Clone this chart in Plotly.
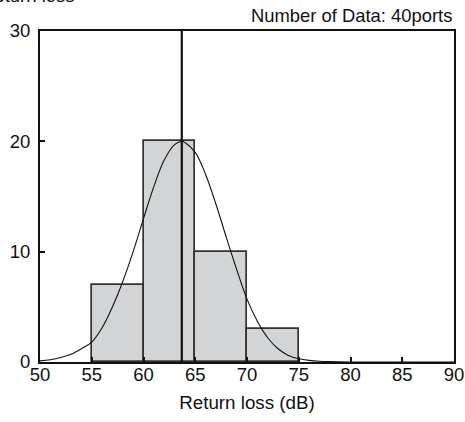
import plotly.graph_objects as go

# Histogram data (bin centers, counts)
bin_centers = [57.5, 62.5, 67.5, 72.5]
counts = [7, 20, 10, 3]
bin_width = 5

# Fitted distribution curve
curve_x = [50, 51, 52, 53, 54, 55, 56, 57, 58, 59, 60, 61, 62, 63, 63.7, 64, 65, 66,
           67, 68, 69, 70, 71, 72, 73, 74, 75, 76, 77, 78, 80, 85, 90]
curve_y = [0.1, 0.2, 0.4, 0.7, 1.2, 1.8, 3.1, 5.0, 7.3, 10.0, 13.0, 15.9, 18.3, 19.7, 20.0, 19.9, 19.0, 17.0,
           14.3, 11.3, 8.4, 5.7, 3.7, 2.2, 1.2, 0.6, 0.3, 0.15, 0.07, 0.03, 0.0, 0.0, 0.0]

mean_value = 63.7
x_ticks = [50, 55, 60, 65, 70, 75, 80, 85, 90]
y_ticks = [0, 10, 20, 30]

FONT = "Liberation Sans, Arial, sans-serif"

fig = go.Figure()
fig.add_trace(go.Bar(
    x=bin_centers, y=counts, width=[bin_width] * len(counts),
    marker=dict(color="#d3d4d6", line=dict(color="#333333", width=1.7)),
    showlegend=False,
))
fig.add_trace(go.Scatter(
    x=curve_x, y=curve_y, mode="lines",
    line=dict(color="#111111", width=1.1, shape="spline", smoothing=1.0),
    showlegend=False, cliponaxis=True,
))
fig.add_trace(go.Scatter(
    x=[mean_value, mean_value], y=[0, 30], mode="lines",
    line=dict(color="#111111", width=2.2),
    showlegend=False,
))

fig.update_layout(
    width=465, height=422,
    margin=dict(l=40, r=11, t=31, b=60, autoexpand=False),
    paper_bgcolor="white", plot_bgcolor="white",
    font=dict(family=FONT, size=18, color="#111111"),
    bargap=0,
    xaxis=dict(
        range=[50, 90], tickvals=x_ticks, ticktext=[str(v) for v in x_ticks],
        ticks="inside", ticklen=5, tickwidth=1.5, tickcolor="#111111",
        showline=True, linewidth=2, linecolor="#111111", mirror=True,
        showgrid=False, zeroline=False, automargin=False,
        title=dict(text="Return loss (dB)", font=dict(size=18.8), standoff=12),
        tickfont=dict(size=18.5),
        ticklabelstandoff=-5,
    ),
    yaxis=dict(
        range=[0, 30], tickvals=y_ticks, ticktext=[str(v) for v in y_ticks],
        ticks="inside", ticklen=5, tickwidth=1.5, tickcolor="#111111",
        showline=True, linewidth=2, linecolor="#111111", mirror=True,
        showgrid=False, zeroline=False, automargin=False,
        tickfont=dict(size=18.5),
        ticklabelstandoff=4,
    ),
    annotations=[
        dict(text="Number of Data: 40ports", xref="paper", yref="paper",
             x=1.0, y=1.0, xanchor="right", yanchor="bottom", yshift=3,
             showarrow=False, font=dict(size=18.4)),
        dict(text="Return loss", xref="paper", yref="paper",
             x=(77 - 40) / 414, y=1.0, xanchor="right", yanchor="bottom", yshift=23,
             showarrow=False, font=dict(size=18.5)),
    ],
)

fig.write_html("out.html")
